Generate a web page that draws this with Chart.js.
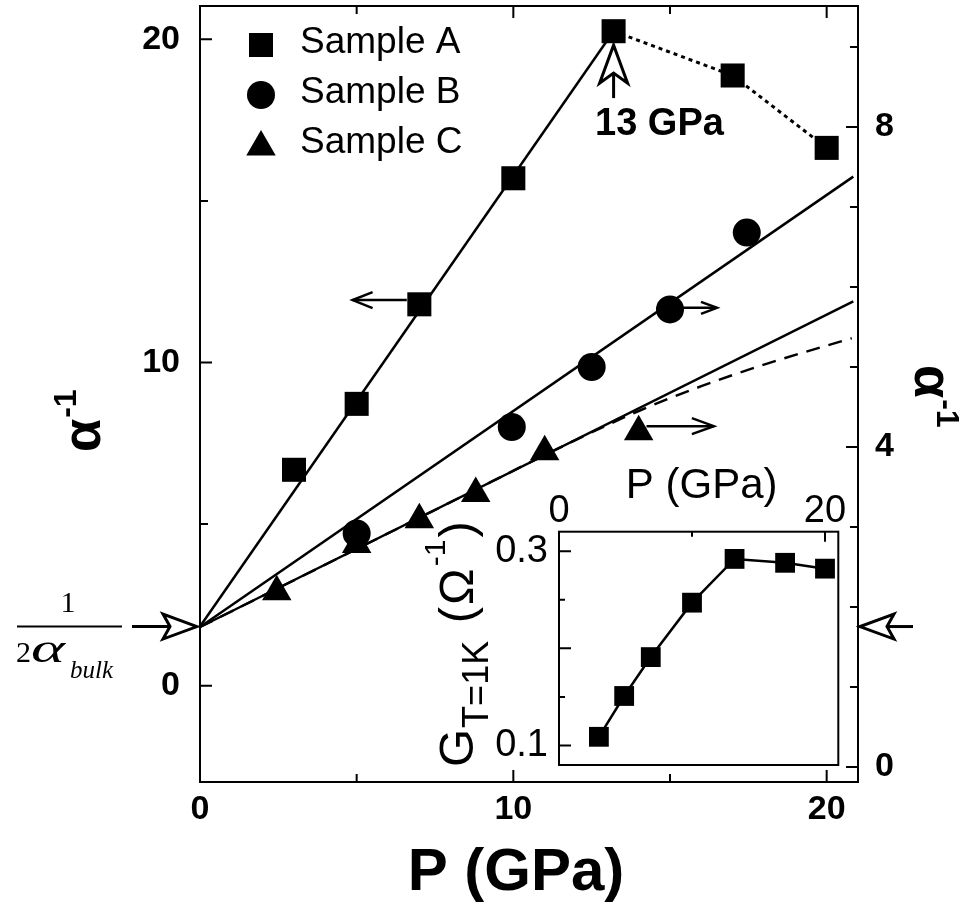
<!DOCTYPE html>
<html><head><meta charset="utf-8">
<script src="https://cdn.jsdelivr.net/npm/chart.js@4.4.1/dist/chart.umd.min.js"></script>
<style>
html,body{margin:0;padding:0;background:#fff;}
#wrap{position:relative;width:968px;height:909px;overflow:hidden;}
#main{position:absolute;left:0;top:0;}
#inset{position:absolute;left:400px;top:440px;}
</style></head><body>
<div id="wrap"><canvas id="main" width="968" height="909"></canvas><canvas id="inset" width="460" height="340"></canvas></div>
<script>
// ---------- data ----------
const pressureA = [3, 5, 7, 10, 13.2, 17, 20];
const alphaInvA = [6.68, 8.72, 11.8, 15.7, 20.25, 18.88, 16.64];
const pressureB = [5, 9.95, 12.5, 15, 17.45];
const alphaInvB = [2.92, 4.25, 5.0, 5.72, 6.68];
const pressureC = [2.45, 5, 7, 8.8, 11, 14];
const alphaInvC = [2.19, 2.78, 3.09, 3.42, 3.94, 4.19];
const fitAP = [0, 13.2];
const fitAV = [1.83, 20.25];
const dotAP = [13.2, 17, 20];
const dotAV = [20.25, 18.88, 16.64];
const fitBP = [0, 20.85];
const fitBV = [1.75, 7.38];
const fitCP = [0, 20.85];
const fitCV = [1.75, 5.82];
const curveCP = [0, 4, 8, 12, 14, 16, 18, 20.8];
const curveCV = [1.75, 2.53, 3.31, 4.09, 4.45, 4.76, 5.03, 5.36];
const insetP = [3, 4.9, 6.9, 10, 13.2, 17, 20];
const insetG = [0.109, 0.151, 0.191, 0.247, 0.292, 0.288, 0.282];
const xTickLabels = [0, 10, 20];
const yTickLabels = [0, 10, 20];
const y2TickLabels = [0, 4, 8];
const xTickMarks = [5, 10, 15, 20];
const yTickMarks = [0, 5, 10, 15, 20];
const y2TickMarks = [0, 1, 2, 3, 4, 5, 6, 7, 8, 9];
const insetXTickLabels = [0, 20];
const insetYTickLabels = [0.1, 0.3];
const insetXTickMarks = [10, 20];
const insetYTickMarks = [0.1, 0.15, 0.2, 0.25, 0.3];
const legendLabels = ['Sample A', 'Sample B', 'Sample C'];

const SANS = '"Liberation Sans", Arial, sans-serif';
const SERIF = '"Liberation Serif", "Times New Roman", serif';
const pts = (xs, ys) => xs.map((x, i) => ({x: x, y: ys[i]}));
const setTicks = arr => (s => { s.ticks = arr.map(v => ({value: v})); });
const fixSize = (prop, val) => (s => { s[prop] = val; s.paddingTop = 0; s.paddingBottom = 0; s.paddingLeft = 0; s.paddingRight = 0; });

function lineArrow(ctx, x1, y1, x2, y2, head, half) {
  const a = Math.atan2(y2 - y1, x2 - x1);
  ctx.save();
  ctx.lineWidth = 2.5; ctx.strokeStyle = '#000';
  ctx.beginPath(); ctx.moveTo(x1, y1); ctx.lineTo(x2, y2); ctx.stroke();
  ctx.translate(x2, y2); ctx.rotate(a);
  ctx.beginPath(); ctx.moveTo(-head, -half); ctx.lineTo(0, 0); ctx.lineTo(-head, half); ctx.stroke();
  ctx.restore();
}
function openArrow(ctx, tx, ty, angle, len, half, notch, shaft) {
  ctx.save();
  ctx.translate(tx, ty); ctx.rotate(angle);
  ctx.lineWidth = 3; ctx.strokeStyle = '#000'; ctx.fillStyle = '#fff';
  ctx.beginPath(); ctx.moveTo(-notch, 0); ctx.lineTo(-shaft, 0); ctx.stroke();
  ctx.beginPath();
  ctx.moveTo(0, 0); ctx.lineTo(-len, -half); ctx.lineTo(-notch, 0); ctx.lineTo(-len, half); ctx.closePath();
  ctx.fill(); ctx.stroke();
  ctx.restore();
}

const decorPlugin = {
  id: 'decor',
  beforeDraw(chart) {
    const ctx = chart.ctx;
    ctx.save(); ctx.fillStyle = '#fff'; ctx.fillRect(0, 0, chart.width, chart.height); ctx.restore();
  },
  afterDraw(chart) {
    const {ctx, chartArea: ca, scales} = chart;
    const X = scales.x, Y = scales.y, Y2 = scales.y2;
    ctx.save();
    ctx.strokeStyle = '#000'; ctx.fillStyle = '#000';
    ctx.lineWidth = 2;
    ctx.strokeRect(ca.left, ca.top, ca.right - ca.left, ca.bottom - ca.top);
    // tick marks (inward)
    ctx.beginPath();
    xTickMarks.forEach(v => {
      const p = X.getPixelForValue(v); const l = v % 10 === 0 ? 12 : 8;
      ctx.moveTo(p, ca.bottom); ctx.lineTo(p, ca.bottom - l);
      ctx.moveTo(p, ca.top); ctx.lineTo(p, ca.top + l);
    });
    yTickMarks.forEach(v => {
      const p = Y.getPixelForValue(v); const l = v % 10 === 0 ? 12 : 8;
      ctx.moveTo(ca.left, p); ctx.lineTo(ca.left + l, p);
    });
    y2TickMarks.forEach(v => {
      const p = Y2.getPixelForValue(v); const l = v % 4 === 0 ? 12 : 8;
      ctx.moveTo(ca.right, p); ctx.lineTo(ca.right - l, p);
    });
    ctx.stroke();

    // legend
    const H = Chart.helpers;
    const styles = ['rect', 'circle', 'triangle'];
    const radii = [17, 14, 17];
    const ly = [45, 95, 147];
    styles.forEach((s, i) => {
      H.drawPoint(ctx, {pointStyle: s, radius: radii[i], rotation: 0, borderWidth: 0}, 261, ly[i]);
    });
    ctx.font = '37px ' + SANS; ctx.textBaseline = 'middle'; ctx.textAlign = 'left';
    legendLabels.forEach((t, i) => ctx.fillText(t, 300, [43, 93, 143][i]));

    // direction arrows
    lineArrow(ctx, X.getPixelForValue(6.6), Y.getPixelForValue(11.93), X.getPixelForValue(4.87), Y.getPixelForValue(11.93), 20, 8);
    lineArrow(ctx, X.getPixelForValue(15.4), Y2.getPixelForValue(5.74), X.getPixelForValue(16.5), Y2.getPixelForValue(5.74), 16, 6);
    lineArrow(ctx, X.getPixelForValue(14.25), Y2.getPixelForValue(4.26), X.getPixelForValue(16.4), Y2.getPixelForValue(4.26), 22, 8);

    // 13 GPa open arrow
    const ax = X.getPixelForValue(13.2), ay = Y.getPixelForValue(19.82);
    openArrow(ctx, ax, ay, -Math.PI / 2, 38, 14, 28, 53);
    ctx.fillStyle = '#000';
    ctx.font = 'bold 38px ' + SANS; ctx.textBaseline = 'alphabetic'; ctx.textAlign = 'left';
    ctx.fillText('13 GPa', 595, 135);

    // intercept arrows  1/(2 alpha_bulk)
    const iy = Y.getPixelForValue(1.83);
    openArrow(ctx, ca.left - 3, iy, 0, 34, 12.5, 27, 65);
    openArrow(ctx, ca.right + 2, iy, Math.PI, 34, 12.5, 27, 53);

    // fraction label
    ctx.fillStyle = '#000';
    ctx.font = '30px ' + SERIF; ctx.textAlign = 'center';
    ctx.fillText('1', 68, 612);
    ctx.lineWidth = 2;
    ctx.beginPath(); ctx.moveTo(17, iy); ctx.lineTo(122, iy); ctx.stroke();
    ctx.textAlign = 'left';
    ctx.fillText('2', 16, 662);
    ctx.save();
    ctx.font = 'italic 40px ' + SERIF;
    const aw = ctx.measureText('\u03B1').width;
    ctx.translate(31, 662); ctx.scale(34 / aw, 1);
    ctx.fillText('\u03B1', 0, 0);
    ctx.restore();
    ctx.font = 'italic 25px ' + SERIF; ctx.fillText('bulk', 70, 678);

    // axis titles
    ctx.font = 'bold 60px ' + SANS; ctx.textAlign = 'center';
    ctx.fillText('P (GPa)', 516, 890);

    ctx.save();
    ctx.translate(100, 452); ctx.rotate(-Math.PI / 2);
    ctx.textAlign = 'left'; ctx.font = 'bold 54px ' + SANS;
    ctx.fillText('\u03B1', 0, 0);
    let w = ctx.measureText('\u03B1').width;
    ctx.font = 'bold 32px ' + SANS; ctx.fillText('-1', w + 1, -24);
    ctx.restore();

    ctx.save();
    ctx.translate(915, 365); ctx.rotate(Math.PI / 2);
    ctx.textAlign = 'left'; ctx.font = 'bold 54px ' + SANS;
    ctx.fillText('\u03B1', 0, 0);
    w = ctx.measureText('\u03B1').width;
    ctx.font = 'bold 32px ' + SANS; ctx.fillText('-1', w + 1, -22);
    ctx.restore();

    ctx.restore();
  }
};

const lineDS = (xs, ys, axis, extra) => Object.assign({
  data: pts(xs, ys), yAxisID: axis, showLine: true, pointRadius: 0,
  borderColor: '#000', borderWidth: 2.5, fill: false, clip: false
}, extra || {});
const pointDS = (xs, ys, axis, style, r) => ({
  data: pts(xs, ys), yAxisID: axis, showLine: false, pointStyle: style, pointRadius: r,
  pointBackgroundColor: '#000', pointBorderColor: '#000', pointBorderWidth: 0, clip: false
});

const tickFont = {family: SANS, size: 34, weight: 'bold'};
new Chart(document.getElementById('main'), {
  type: 'scatter',
  data: {datasets: [
    pointDS(pressureA, alphaInvA, 'y', 'rect', 17),
    pointDS(pressureB, alphaInvB, 'y2', 'circle', 14),
    pointDS(pressureC, alphaInvC, 'y2', 'triangle', 17),
    lineDS(fitAP, fitAV, 'y'),
    lineDS(dotAP, dotAV, 'y', {borderDash: [4, 4], borderWidth: 3}),
    lineDS(fitBP, fitBV, 'y2'),
    lineDS(fitCP, fitCV, 'y2'),
    lineDS(curveCP, curveCV, 'y2', {borderDash: [14, 9], tension: 0.4, cubicInterpolationMode: 'monotone'})
  ]},
  options: {
    responsive: false, animation: false, devicePixelRatio: 1,
    layout: {padding: {top: 6, left: 0, right: 0, bottom: 0}, autoPadding: false},
    plugins: {legend: {display: false}, tooltip: {enabled: false}},
    scales: {
      x: {type: 'linear', position: 'bottom', min: 0, max: 21,
        grid: {display: false, drawTicks: false}, border: {display: false},
        afterBuildTicks: setTicks(xTickLabels),
        ticks: {font: tickFont, color: '#000', padding: 7, maxRotation: 0, autoSkip: false},
        afterFit: fixSize('height', 127)},
      y: {type: 'linear', position: 'left', min: -2.98, max: 21.03,
        grid: {display: false, drawTicks: false}, border: {display: false},
        afterBuildTicks: setTicks(yTickLabels),
        ticks: {font: tickFont, color: '#000', padding: 20, autoSkip: false},
        afterFit: fixSize('width', 200)},
      y2: {type: 'linear', position: 'right', min: -0.1875, max: 9.5125,
        grid: {display: false, drawTicks: false}, border: {display: false},
        afterBuildTicks: setTicks(y2TickLabels),
        ticks: {font: tickFont, color: '#000', padding: 17, autoSkip: false},
        afterFit: fixSize('width', 110)}
    }
  },
  plugins: [decorPlugin]
});

// ---------- inset ----------
const insetPlugin = {
  id: 'insetDecor',
  afterDraw(chart) {
    const {ctx, chartArea: ca, scales} = chart;
    const X = scales.x, Y = scales.y;
    ctx.save();
    ctx.strokeStyle = '#000'; ctx.fillStyle = '#000'; ctx.lineWidth = 2;
    ctx.strokeRect(ca.left, ca.top, ca.right - ca.left, ca.bottom - ca.top);
    ctx.beginPath();
    insetXTickMarks.forEach(v => {
      const p = X.getPixelForValue(v); const l = v % 20 === 0 ? 10 : 5;
      ctx.moveTo(p, ca.top); ctx.lineTo(p, ca.top + l);
    });
    insetYTickMarks.forEach(v => {
      const p = Y.getPixelForValue(v); const major = Math.abs(v * 10 - Math.round(v * 10)) < 1e-6;
      ctx.moveTo(ca.left, p); ctx.lineTo(ca.left + (major ? 12 : 6), p);
    });
    ctx.stroke();
    ctx.font = '42px ' + SANS; ctx.textAlign = 'center'; ctx.textBaseline = 'alphabetic';
    ctx.fillText('P (GPa)', (ca.left + ca.right) / 2 + 3, 58);
    ctx.translate(73, 327); ctx.rotate(-Math.PI / 2);
    ctx.textAlign = 'left';
    let x = 0;
    const seg = (t, size, dy, gap) => { ctx.font = size + 'px ' + SANS; ctx.fillText(t, x, dy); x += ctx.measureText(t).width + (gap || 0); };
    seg('G', 49, 0, 1);
    seg('T=1K', 36, 15, 4);
    seg(' (', 49, 0, 2);
    seg('\u03A9', 49, 0, 2);
    seg('-1', 30, -28, 2);
    seg(')', 49, 0);
    ctx.restore();
  }
};
const insetFont = {family: SANS, size: 38, lineHeight: 1};
new Chart(document.getElementById('inset'), {
  type: 'scatter',
  data: {datasets: [{
    data: pts(insetP, insetG), showLine: true, borderColor: '#000', borderWidth: 2.5,
    pointStyle: 'rect', pointRadius: 14, pointBackgroundColor: '#000', pointBorderWidth: 0, clip: false
  }]},
  options: {
    responsive: false, animation: false, devicePixelRatio: 1,
    layout: {padding: {top: 0, left: 0, right: 21.7, bottom: 15}, autoPadding: false},
    plugins: {legend: {display: false}, tooltip: {enabled: false}},
    scales: {
      x: {type: 'linear', position: 'top', min: 0, max: 21,
        grid: {display: false, drawTicks: false}, border: {display: false},
        afterBuildTicks: setTicks(insetXTickLabels),
        ticks: {font: insetFont, color: '#000', padding: 1, maxRotation: 0, autoSkip: false},
        afterFit: fixSize('height', 91.7)},
      y: {type: 'linear', position: 'left', min: 0.08, max: 0.32,
        grid: {display: false, drawTicks: false}, border: {display: false},
        afterBuildTicks: setTicks(insetYTickLabels),
        ticks: {font: insetFont, color: '#000', padding: 11, autoSkip: false, callback: v => v.toFixed(1)},
        afterFit: fixSize('width', 159)}
    }
  },
  plugins: [insetPlugin]
});
</script>
</body></html>
